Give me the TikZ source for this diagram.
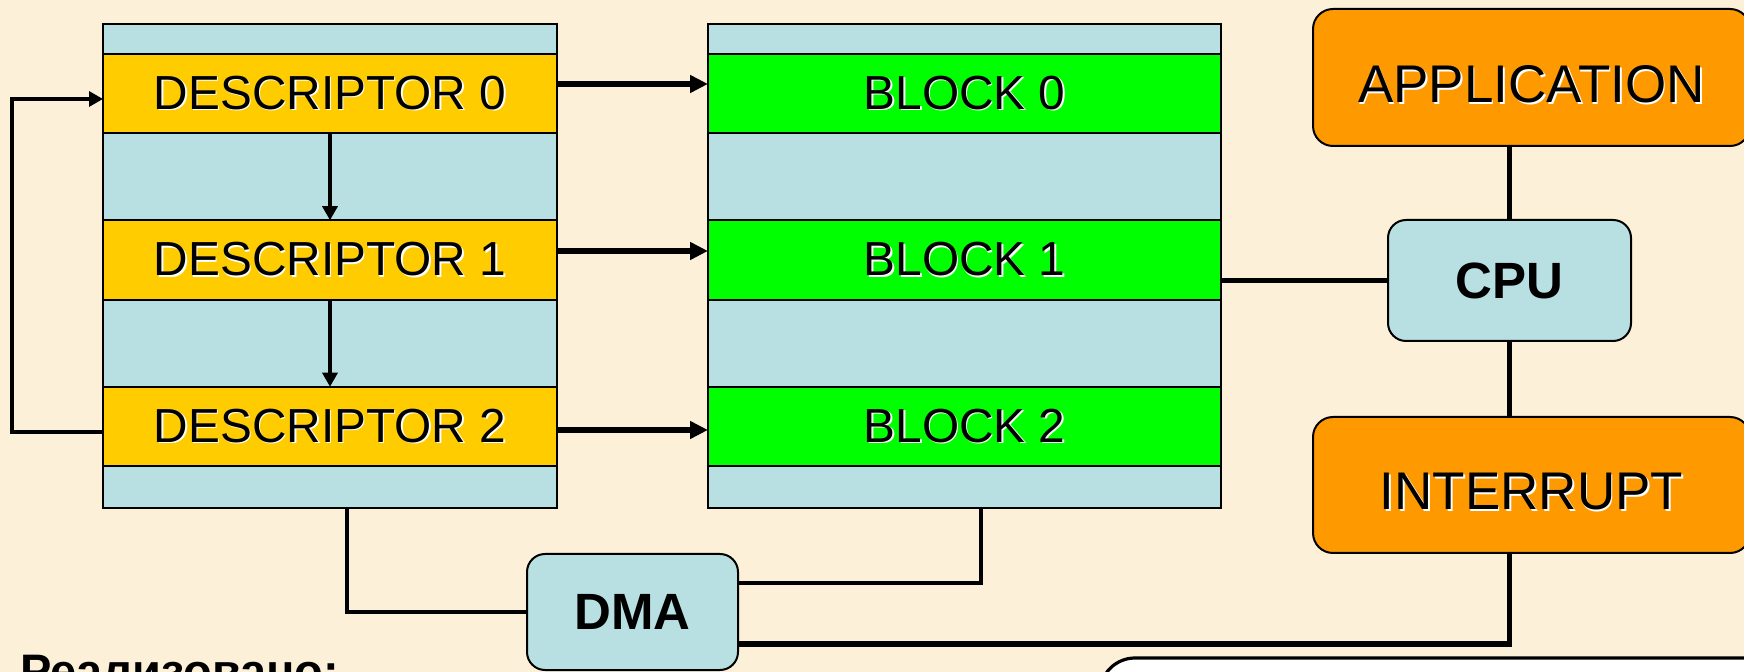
\documentclass[tikz,border=0pt]{standalone}
\usepackage{fontspec}
\setmainfont{Liberation Sans}
\usetikzlibrary{calc}
\usetikzlibrary{positioning}
\usetikzlibrary{arrows.meta}
\definecolor{paper}{RGB}{252,240,217}
\definecolor{mem}{RGB}{184,224,227}
\definecolor{desc}{RGB}{255,204,0}
\definecolor{blk}{RGB}{0,255,0}
\definecolor{unit}{RGB}{255,153,0}
\newcommand{\shtext}[1]{\makebox[0pt][l]{\kern0.8pt\raisebox{-0.8pt}{\color{white}#1}}#1}

\begin{document}
\begin{tikzpicture}[x=0.5pt,y=-0.5pt,
every node/.style={inner sep=0pt,outer sep=0pt},
col/.style={draw=black,line width=0.9pt,fill=mem,minimum height=242pt},
band/.style={draw=black,line width=0.9pt,minimum height=39.75pt,font=\fontsize{23.9}{28}\selectfont},
dband/.style={band,fill=desc,minimum width=227pt},
bband/.style={band,fill=blk,minimum width=256.5pt},
unitbox/.style={draw=black,line width=1pt,rounded corners=10pt,fill=unit,minimum width=218.5pt,text height=25pt,text depth=0pt,font=\fontsize{26.5}{32}\selectfont},
chip/.style={draw=black,line width=1pt,rounded corners=9pt,fill=mem,font=\fontsize{25.5}{30}\selectfont\bfseries},
-->/.style={-{Triangle[length=9pt,width=8.5pt]},line width=2.6pt},
--->/.style={-{Triangle[length=7pt,width=7.5pt]},line width=1.6pt},
bus/.style={line width=2.6pt},
wire/.style={line width=1.6pt},
]
\useasboundingbox (0,0) rectangle (1744,672);
\clip (0,0) rectangle (1744,672);
\fill[paper] (0,0) rectangle (1744,672);

\node[col,minimum width=227pt] (dcol) at (330,266) {};
\node[col,minimum width=256.5pt] (bcol) at (964.5,266) {};

\node[dband] (d0) at (330,93.5) {\shtext{DESCRIPTOR 0}};
\node[dband] (d1) at (330,260) {\shtext{DESCRIPTOR 1}};
\node[dband] (d2) at (330,426.5) {\shtext{DESCRIPTOR 2}};
\node[bband] (b0) at (964.5,93.5) {\shtext{BLOCK 0}};
\node[bband] (b1) at (964.5,260) {\shtext{BLOCK 1}};
\node[bband] (b2) at (964.5,426.5) {\shtext{BLOCK 2}};

\node[unitbox,minimum height=68.5pt] (app) at (1531.5,77.5) {\shtext{APPLICATION}};
\node[chip,minimum width=121.5pt,minimum height=60.5pt] (cpu) at (1509.5,280.5) {CPU};
\node[unitbox,minimum height=68pt] (irq) at (1531.5,485) {\shtext{INTERRUPT}};
\node[chip,minimum width=105.5pt,minimum height=58pt] (dma) at (632.5,612) {DMA};

\node[draw=black,line width=1.6pt,fill=white,rounded corners=17.5pt,minimum width=350pt,minimum height=71pt] (note) at (1450,729) {};
\node[anchor=base west,font=\fontsize{23.5}{28}\selectfont\bfseries] (done) at (20,687) {Реализовано:};

\draw[-->] ([yshift=4.75pt]d0.east) -- ([yshift=4.75pt]b0.west);
\draw[-->] ([yshift=4.5pt]d1.east) -- ([yshift=4.5pt]b1.west);
\draw[-->] ([yshift=-1.75pt]d2.east) -- ([yshift=-1.75pt]b2.west);
\draw[--->] (d0.south) -- (d1.north);
\draw[--->] (d1.south) -- (d2.north);
\coordinate (lp) at (12,266);
\draw[--->] ([yshift=-2.75pt]d2.west) -| (lp) |- ([yshift=-2.75pt]d0.west);

\draw[bus] (cpu.west) -- (cpu.west -| bcol.east);
\draw[bus] (cpu.north) -- (cpu.north |- app.south);
\draw[bus] (cpu.south) -- (cpu.south |- irq.north);
\draw[bus] (irq.south -| cpu.south) |- ([yshift=-16pt]dma.east);
\draw[wire] ([xshift=8.25pt]bcol.south) |- ([yshift=14.5pt]dma.east);
\draw[wire] ([xshift=8.5pt]dcol.south) |- (dma.west);
\end{tikzpicture}
\end{document}
